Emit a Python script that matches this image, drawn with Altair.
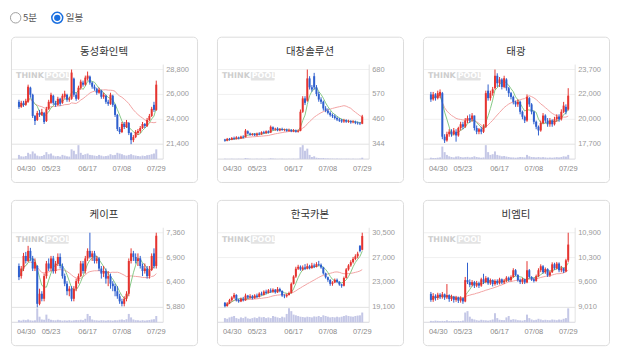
import altair as alt
import pandas as pd

TITLES = ["동성화인텍", "대창솔루션", "태광", "케이프", "한국카본", "비엠티"]
DATES = ["04/30", "05/23", "06/17", "07/08", "07/29"]
DATE_IDX = [0, 14, 30, 45, 60]

# ---- 동성화인텍
P1_O = [25600,25100,25500,25300,25600,27000,26300,24200,23800,24500,
        24300,24500,23700,24900,25500,26200,25500,25300,25900,25500,
        26100,26300,25800,25900,27900,26300,25900,27000,27500,27300,
        27900,28100,27500,27100,26900,26500,26700,26100,26200,25600,
        25400,26200,25300,24300,22900,22600,23400,23100,23500,22500,
        21800,22100,22500,22700,23000,23400,23200,23800,24200,25300,
        24800]
P1_C = [25100,25500,25300,25700,27100,26300,24200,23700,24500,24300,
        24600,23600,24900,25600,26300,25500,25300,25900,25400,26200,
        26400,25800,25900,28500,26300,25900,27000,27600,27300,28000,
        28200,27500,27100,26900,26500,26800,26100,26300,25600,25400,
        26300,25300,24300,22900,22600,23400,23100,23600,22500,21800,
        22100,22600,22700,23000,23400,23200,23800,24200,24900,24800,
        27300]
P1_H = [25800,25700,25700,25900,27300,27100,26400,24300,24700,24800,
        24900,24600,25100,25800,26500,26300,25700,26100,26000,26400,
        26700,26400,26100,28800,28000,26500,27200,27800,27700,28200,
        28600,28200,27600,27300,27000,27000,26800,26500,26300,25800,
        26500,26300,25400,24400,23100,23600,23600,23800,23600,22600,
        22300,22800,22900,23200,23600,23500,24000,24400,25100,25600,
        27700]
P1_L = [24900,25000,25100,25200,25500,26000,24000,23300,23700,24100,
        24200,23400,23600,24800,25400,25300,25100,25200,25200,25400,
        25900,25600,25600,25800,26100,25700,25800,26800,27100,27200,
        27700,27300,26900,26700,26300,26400,25900,25900,25400,25200,
        25300,25100,24100,22700,22400,22500,22900,23000,22300,21400,
        21600,22000,22300,22500,22900,23000,23100,23700,24100,24600,
        24700]
P1_V = [30,20,18,22,45,35,55,40,25,20,
        22,30,50,35,40,25,20,22,18,30,
        25,20,18,70,60,35,100,45,30,35,
        40,30,28,25,22,30,25,20,22,25,
        35,28,30,45,40,35,28,25,30,35,
        28,25,22,20,25,22,28,30,35,40,
        70]

# ---- 대창솔루션
P2_O = [365,360,368,364,372,368,374,370,378,376,
        402,392,386,390,384,392,388,398,394,402,
        396,420,410,414,406,412,408,410,404,408,
        402,406,400,404,490,550,540,640,600,650,
        600,570,545,535,505,495,485,475,470,462,
        455,452,446,452,445,448,442,446,440,438,
        436]
P2_C = [360,368,364,372,368,375,370,378,374,405,
        392,386,390,384,392,388,398,394,402,396,
        422,410,414,406,412,408,410,404,408,402,
        406,400,404,490,550,530,640,600,590,600,
        570,545,535,505,495,485,475,470,462,455,
        450,446,452,445,448,442,446,440,438,436,
        468]
P2_H = [368,372,372,376,378,380,378,382,384,412,
        406,396,394,394,396,398,402,404,406,406,
        428,424,418,420,416,418,414,414,414,412,
        412,410,410,500,560,560,680,650,610,665,
        610,580,555,540,515,505,492,482,478,468,
        462,458,458,456,454,452,452,450,446,444,
        476]
P2_L = [355,357,360,362,364,365,366,368,370,374,
        388,382,382,380,380,384,386,390,390,392,
        394,406,404,402,402,404,402,400,400,398,
        398,396,396,402,485,520,535,590,580,590,
        560,535,525,495,488,478,468,462,455,448,
        444,440,440,440,440,436,438,434,432,430,
        434]
P2_V = [3,2,2,3,2,2,3,2,2,8,
        5,3,2,2,3,2,3,2,2,3,
        6,4,3,2,2,3,2,2,2,2,
        3,2,3,85,100,60,75,30,15,20,
        10,8,6,8,5,5,4,4,3,4,
        3,3,3,3,3,2,3,2,2,3,
        10]

# ---- 태광
P3_O = [21700,21300,21700,21400,21600,21800,18300,18000,18500,18700,
        18500,18700,18400,19000,19300,19100,19600,19800,19700,20000,
        19000,18700,18900,18700,19100,22000,21400,21800,22200,23200,
        22600,22900,22300,22900,22200,21800,21500,21100,20900,21100,
        20300,19900,19600,21400,20900,20300,19500,19100,18800,19400,
        20000,19600,19300,19600,19300,19700,19900,19700,20300,20700,
        20500]
P3_C = [21300,21700,21400,21800,21900,18300,18000,18500,18700,18500,
        18800,18400,19000,19300,19100,19600,19800,19600,20000,19000,
        18700,18900,18700,19100,21800,21400,21800,22100,23200,22600,
        22900,22300,23000,22200,21800,21500,21100,20900,21100,20300,
        19900,19600,21500,20900,20300,19500,19100,18800,19400,20000,
        19600,19300,19600,19300,19700,19900,19700,20300,20800,20300,
        21600]
P3_H = [21900,21900,21800,22000,22100,21900,18500,18700,18900,18900,
        19000,18900,19100,19500,19500,19800,20000,20100,20200,20000,
        19200,19000,19100,19300,22000,22500,22000,22300,23700,23400,
        23100,23000,23200,23000,22300,21900,21600,21200,21300,21200,
        20400,20000,21700,21500,21000,20400,19600,19200,19600,20200,
        20100,19800,19800,19700,19900,20100,20100,20500,21100,20900,
        22200]
P3_L = [21100,21200,21200,21300,21400,18100,17800,17900,18300,18300,
        18400,17900,18300,18800,18900,19000,19400,19400,19500,18800,
        18500,18500,18500,18600,19000,21200,21200,21600,22100,22300,
        22300,22100,22200,22000,21500,21300,20900,20700,20700,20100,
        19700,19400,19500,20700,20100,19300,18900,18400,18700,19300,
        19400,19100,19100,19100,19200,19500,19500,19600,20200,20100,
        20400]
P3_V = [10,8,8,10,12,90,50,30,20,15,
        12,18,20,15,12,14,16,12,14,20,
        15,12,10,12,100,50,30,35,55,30,
        25,20,22,18,15,12,12,10,12,15,
        14,12,30,20,15,14,12,15,12,14,
        12,10,12,10,12,14,12,15,20,18,
        30]

# ---- 케이프
P4_O = [6700,6500,6650,6900,6800,7000,6850,6650,6700,5950,
        6150,6050,6500,6750,6650,6850,6600,6750,6880,6700,
        6500,6350,6200,6250,6050,6250,6400,6500,6750,6600,
        6850,7000,6880,6950,6800,6850,6650,6550,6600,6450,
        6500,6350,6300,6200,6100,6000,5950,6050,6150,6800,
        6950,6880,6800,6850,6700,6600,6650,6500,6620,6950,
        6700]
P4_C = [6480,6650,6900,6800,7000,6850,6650,6780,5950,6150,
        6050,6500,6750,6650,6850,6600,6750,6880,6700,6500,
        6350,6200,6250,6050,6250,6400,6500,6750,6600,6850,
        7000,6880,6950,6800,6850,6650,6550,6600,6450,6500,
        6350,6300,6200,6100,6000,5950,6050,6150,6800,6950,
        6880,6800,6850,6700,6600,6650,6500,6620,6900,6700,
        7300]
P4_H = [6750,6700,6960,6980,7100,7060,6900,6850,6720,6250,
        6200,6550,6800,6850,6900,6900,6800,6950,6950,6750,
        6550,6400,6300,6300,6300,6450,6550,6800,6800,6900,
        7050,7360,7000,7000,6900,6880,6700,6700,6650,6600,
        6550,6400,6350,6300,6150,6050,6100,6200,6850,7050,
        7000,6950,6950,6900,6750,6750,6700,6700,6950,7050,
        7360]
P4_L = [6420,6450,6600,6750,6780,6800,6600,6600,5880,5920,
        6000,6000,6450,6600,6600,6550,6550,6700,6650,6450,
        6300,6120,6100,6000,6000,6200,6350,6480,6550,6550,
        6800,6850,6800,6750,6750,6600,6450,6480,6350,6300,
        6250,6200,6100,6050,5950,5900,5900,6000,6100,6750,
        6800,6750,6700,6650,6500,6550,6450,6450,6600,6650,
        6650]
P4_V = [15,12,18,15,20,14,12,14,100,40,
        20,18,55,25,18,15,14,18,15,12,
        14,12,15,12,14,16,15,18,15,25,
        60,45,20,15,14,12,15,14,12,15,
        14,12,15,14,18,20,16,22,60,35,
        20,15,14,12,15,12,14,16,20,22,
        45]

# ---- 한국카본
P5_O = [19800,19300,19700,20200,20600,21000,20200,20000,20400,20200,
        20900,20600,20800,20500,20900,20700,21200,21000,21500,21300,
        21700,21500,21800,21400,21900,21600,20900,20800,21000,21300,
        22700,23800,25000,25300,24900,25200,25000,25400,25100,25500,
        25300,25700,25600,25200,24300,23700,23300,22700,22900,23300,
        23000,22600,22400,23600,24900,25500,26000,26500,26900,28500,
        27900]
P5_C = [19300,19700,20200,20600,21000,20200,20000,20400,20200,20900,
        20600,20800,20500,20900,20700,21200,21000,21500,21300,21700,
        21500,21800,21400,21900,21600,20900,20800,21000,21300,22700,
        23800,25000,25300,24900,25200,25000,25400,25100,25500,25300,
        25700,25600,25200,24300,23700,23300,22700,22900,23300,23000,
        22600,22400,23600,24900,25500,26000,26500,26900,27300,27700,
        30000]
P5_H = [19900,19900,20400,20800,21300,21100,20400,20600,20700,21200,
        21000,21100,21000,21100,21200,21400,21500,21700,21800,21900,
        22000,22000,21900,22200,22100,21700,21100,21200,21500,22900,
        24000,25300,25600,25500,25500,25700,25800,25600,25900,25800,
        26000,26200,25800,25300,24400,23800,23400,23100,23500,23500,
        23100,22700,23800,25100,25700,26300,26800,27200,27600,28600,
        30500]
P5_L = [19100,19200,19600,20000,20400,20000,19800,19900,20000,20100,
        20400,20400,20300,20400,20500,20600,20900,20900,21100,21200,
        21300,21300,21200,21300,21400,20700,20500,20600,20900,21200,
        22600,23600,24800,24700,24700,24800,24900,24900,25000,25100,
        25200,25400,25000,24100,23500,23000,22400,22400,22800,22800,
        22400,22100,22300,23500,24700,25300,25800,26300,26600,27500,
        27800]
P5_V = [30,25,35,40,45,30,25,35,30,40,
        28,25,30,35,30,40,35,38,30,35,
        30,45,40,35,30,40,35,60,100,80,
        55,50,45,40,38,35,40,38,35,42,
        40,45,38,50,45,40,35,38,35,40,
        36,40,45,50,45,42,40,45,48,50,
        70]

# ---- 비엠티
P6_O = [9350,9200,9300,9250,9330,9280,9340,9260,9320,9220,
        9280,9200,9260,9180,9240,9160,9700,9650,9580,9650,
        9560,9620,9560,9720,9650,9750,9620,9700,9600,9680,
        9620,9720,9640,9690,9760,9700,9780,9950,9830,9700,
        9650,9720,9640,9950,9780,9720,9680,9800,9950,10050,
        9900,9980,9820,9900,10100,10000,10120,9950,10000,9920,
        10200]
P6_C = [9200,9300,9250,9330,9280,9340,9260,9320,9220,9280,
        9200,9260,9180,9240,9160,9700,9650,9580,9650,9560,
        9620,9560,9720,9650,9750,9620,9700,9600,9680,9620,
        9720,9640,9690,9760,9700,9780,9950,9830,9700,9650,
        9720,9640,9950,9780,9720,9680,9800,9950,10050,9900,
        9980,9820,9900,10100,10000,10120,9950,10000,9920,10200,
        10600]
P6_H = [9400,9370,9340,9380,9370,9400,9360,9600,9340,9330,
        9300,9300,9280,9290,9260,9780,10140,9720,9700,9680,
        9680,9660,9760,9860,9800,9780,9740,9720,9720,9720,
        9760,9740,9730,9800,9790,9820,10000,9980,9850,9740,
        9760,9740,10180,9980,9800,9760,9840,10000,10100,10080,
        10020,10000,9940,10150,10140,10160,10150,10060,10020,10240,
        10900]
P6_L = [9150,9150,9180,9200,9220,9230,9200,9220,9150,9170,
        9130,9150,9120,9130,9100,9140,9600,9520,9540,9500,
        9520,9500,9530,9600,9620,9580,9580,9540,9560,9580,
        9590,9600,9600,9650,9660,9670,9760,9800,9660,9600,
        9600,9600,9620,9740,9680,9640,9660,9780,9900,9860,
        9860,9780,9780,9880,9960,9970,9900,9900,9880,9900,
        10150]
P6_V = [10,8,12,10,8,10,9,14,8,10,
        9,8,10,9,12,70,80,40,25,20,
        15,12,18,15,14,12,15,20,65,30,
        18,16,15,35,45,18,22,20,15,14,
        12,16,55,30,20,15,18,25,20,15,
        18,16,14,20,18,15,20,18,25,30,
        100]

# axis extremes and right-side labels (top to bottom)
Y_MIN = [21400, 344, 17700, 5880, 19100, 9010]
Y_MAX = [28800, 680, 23700, 7360, 30500, 10900]
Y_LABELS = [
    ["28,800", "26,000", "24,000", "21,400"],
    ["680", "570", "460", "344"],
    ["23,700", "22,000", "20,000", "17,700"],
    ["7,360", "6,900", "6,400", "5,880"],
    ["30,500", "27,000", "23,000", "19,100"],
    ["10,900", "10,300", "9,600", "9,010"],
]

SERIES = [
    (P1_O, P1_H, P1_L, P1_C, P1_V),
    (P2_O, P2_H, P2_L, P2_C, P2_V),
    (P3_O, P3_H, P3_L, P3_C, P3_V),
    (P4_O, P4_H, P4_L, P4_C, P4_V),
    (P5_O, P5_H, P5_L, P5_C, P5_V),
    (P6_O, P6_H, P6_L, P6_C, P6_V),
]

RED = "#e5332f"
BLUE = "#2e5fce"
NUM_FONT = "Liberation Sans"
KR_FONT = "Noto Sans CJK KR"

CARD_W, CARD_H = 187, 146


def card(k):
    o, h, l, c, v = SERIES[k]
    for arr in (o, h, l, c, v):
        assert len(arr) == 61
    df = pd.DataFrame({"i": list(range(61)), "o": o, "h": h, "l": l, "c": c, "v": v})
    ymin, ymax = Y_MIN[k], Y_MAX[k]

    xs = alt.Scale(domain=[0, 60], range=[3, 151], nice=False, zero=False)
    ps = alt.Scale(domain=[ymin, ymax], range=[108, 33], nice=False, zero=False)
    vs = alt.Scale(domain=[0, 100], range=[123, 109], nice=False, zero=True)
    X = alt.X("i:Q", scale=xs, axis=None)

    base = alt.Chart(df)
    col = alt.condition("datum.c >= datum.o", alt.value(RED), alt.value(BLUE))

    step = (ymax - ymin) / 3.0
    lab_df = pd.DataFrame({
        "pos": [ymax - n * step for n in range(4)],
        "lab": Y_LABELS[k],
        "col": ["#f0f0f0", "#f0f0f0", "#f0f0f0", "#e2e2e2"],
    })
    grid = alt.Chart(lab_df).mark_rule(strokeWidth=1).encode(
        x=alt.value(1), x2=alt.value(153),
        y=alt.Y("pos:Q", scale=ps, axis=None),
        color=alt.Color("col:N", scale=None, legend=None),
    )
    ylab = alt.Chart(lab_df).mark_text(
        align="left", baseline="middle", fontSize=7.5, font=NUM_FONT, color="#9a9a9a"
    ).encode(x=alt.value(156), y=alt.Y("pos:Q", scale=ps, axis=None), text="lab:N")

    frame_v = alt.Chart(df.head(1)).mark_rule(color="#e2e2e2").encode(
        x=alt.value(153), y=alt.value(28), y2=alt.value(123))
    frame_h = alt.Chart(df.head(1)).mark_rule(color="#d8d8de").encode(
        x=alt.value(1), x2=alt.value(153), y=alt.value(123))

    vol = base.mark_bar(size=2, color="#c4c7e6").encode(
        x=X, y=alt.Y("v:Q", scale=vs, axis=None))

    ma20 = base.transform_window(
        ma="mean(c)", frame=[-19, 0], sort=[alt.SortField("i")]
    ).mark_line(color="#f2a3a3", strokeWidth=1).encode(
        x=X, y=alt.Y("ma:Q", scale=ps, axis=None))
    ma5 = base.transform_window(
        ma="mean(c)", frame=[-4, 0], sort=[alt.SortField("i")]
    ).mark_line(color="#86c986", strokeWidth=1).encode(
        x=X, y=alt.Y("ma:Q", scale=ps, axis=None))

    wick = base.mark_rule(strokeWidth=1).encode(
        x=X, y=alt.Y("l:Q", scale=ps, axis=None), y2="h:Q", color=col)
    body = base.mark_bar(size=2).encode(
        x=X, y=alt.Y("o:Q", scale=ps, axis=None), y2="c:Q", color=col)

    date_df = pd.DataFrame({"i": DATE_IDX, "lab": DATES})
    xlab_first = alt.Chart(date_df.head(1)).mark_text(
        align="left", baseline="middle", fontSize=7.5, font=NUM_FONT, color="#8a8a8a", dx=-2
    ).encode(x=X, y=alt.value(133), text="lab:N")
    xlab_rest = alt.Chart(date_df.iloc[1:]).mark_text(
        align="center", baseline="middle", fontSize=7.5, font=NUM_FONT, color="#8a8a8a"
    ).encode(x=X, y=alt.value(133), text="lab:N")

    one = df.head(1)
    title = alt.Chart(one).mark_text(
        text=TITLES[k], align="center", baseline="middle", fontSize=10.5,
        font=KR_FONT, color="#333333"
    ).encode(x=alt.value(CARD_W / 2), y=alt.value(15))
    wm_box = alt.Chart(one).mark_rect(color="#e3e3e3", cornerRadius=1).encode(
        x=alt.value(34), x2=alt.value(58), y=alt.value(35.5), y2=alt.value(44))
    wm_think = alt.Chart(one).mark_text(
        text="THINK", align="left", baseline="middle", fontSize=8, fontWeight="bold",
        font="DejaVu Sans", color="#cdcdcd"
    ).encode(x=alt.value(5), y=alt.value(40))
    wm_pool = alt.Chart(one).mark_text(
        text="POOL", align="left", baseline="middle", fontSize=8, fontWeight="bold",
        font="DejaVu Sans", color="#ffffff"
    ).encode(x=alt.value(35), y=alt.value(40))

    return alt.layer(
        grid, frame_v, frame_h, wm_box, wm_think, wm_pool, vol, ma20, ma5,
        wick, body, ylab, xlab_first, xlab_rest, title
    ).resolve_scale(y="independent").properties(
        width=CARD_W, height=CARD_H,
        view=alt.ViewBackground(stroke="#dcdcdc", strokeWidth=1, cornerRadius=4, fill="white"),
    )


# header with the two radio buttons
hdr = pd.DataFrame({"k": [0]})
h_c1 = alt.Chart(hdr).mark_circle(size=110, fill="white", stroke="#a0a0a0", strokeWidth=1, opacity=1).encode(
    x=alt.value(4.7), y=alt.value(5))
h_t1 = alt.Chart(hdr).mark_text(text="5분", align="left", baseline="middle", fontSize=9.5,
                                font=KR_FONT, color="#555555").encode(x=alt.value(12), y=alt.value(5))
h_c2 = alt.Chart(hdr).mark_circle(size=120, fill="white", stroke="#1a6fe0", strokeWidth=1.5, opacity=1).encode(
    x=alt.value(46.5), y=alt.value(5))
h_c2i = alt.Chart(hdr).mark_circle(size=40, color="#1a6fe0", opacity=1).encode(
    x=alt.value(46.5), y=alt.value(5))
h_t2 = alt.Chart(hdr).mark_text(text="일봉", align="left", baseline="middle", fontSize=9.5,
                                font=KR_FONT, color="#555555").encode(x=alt.value(55), y=alt.value(5))
header = alt.layer(h_c1, h_t1, h_c2, h_c2i, h_t2).properties(
    width=597, height=20, view=alt.ViewBackground(strokeOpacity=0))

row1 = alt.hconcat(card(0), card(1), card(2), spacing=18)
row2 = alt.hconcat(card(3), card(4), card(5), spacing=18)
grid_all = alt.vconcat(row1, row2, spacing=16)

chart = alt.vconcat(header, grid_all, spacing=3).properties(
    padding={"left": 0, "top": 0, "right": 0, "bottom": 0}
).configure_view(stroke="transparent")

chart.save("out.html", embed_options={"renderer": "svg", "actions": False})
